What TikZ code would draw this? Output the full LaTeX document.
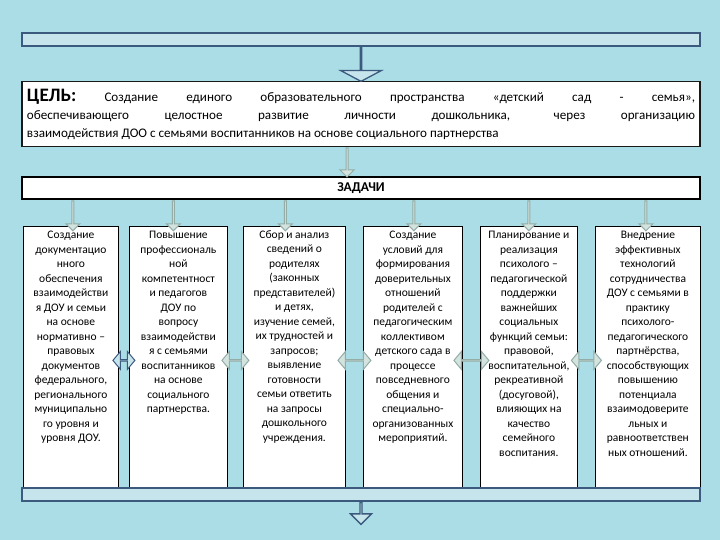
\documentclass[tikz,border=0pt]{standalone}
\usepackage{fontspec}
\setmainfont{Carlito}
\usepackage{tikz}
\usetikzlibrary{positioning,shapes.arrows,calc}
\definecolor{lagoon}{HTML}{ABDDE7}
\definecolor{icebar}{HTML}{C6E4EC}
\definecolor{slate}{HTML}{3C5A7D}
\definecolor{sage}{HTML}{93ADA6}
\definecolor{mist}{HTML}{D3E3DF}
\tikzset{
  bandbar/.style={rectangle, draw=slate, fill=icebar, line width=1.4pt,
    minimum width=678pt, minimum height=13pt, inner sep=0pt},
  goalbox/.style={rectangle, draw=black!90, fill=white, line width=1.8pt,
    minimum width=678pt, minimum height=65pt, text width=668pt,
    inner sep=4pt, align=justify, font=\fontsize{13.1}{18}\selectfont},
  taskbar/.style={rectangle, draw=black, fill=white, line width=1.8pt,
    minimum width=678pt, minimum height=22pt, inner sep=0pt,
    font=\fontsize{13.5}{15}\selectfont\bfseries},
  colbox/.style={rectangle, draw=black, fill=white, line width=0.8pt,
    minimum height=262pt, anchor=north west, inner sep=0pt},
  coltext/.style={align=center, inner sep=0pt,
    font=\fontsize{11.5}{14.5}\selectfont},
  blockdown/.style={single arrow, shape border rotate=270, anchor=tail,
    draw=slate, fill=icebar, line width=1.3pt, inner sep=0pt,
    minimum width=41pt, single arrow head extend=15.5pt,
    single arrow tip angle=124},
  taskarrow/.style={single arrow, shape border rotate=270, anchor=tail,
    draw=sage, fill=mist, line width=1pt, inner sep=0pt,
    minimum width=14pt, single arrow head extend=3pt,
    single arrow tip angle=90, minimum height=30pt},
  dblarrow/.style={double arrow, draw=#1, fill=mist, line width=1pt,
    inner sep=0pt, minimum width=18pt, double arrow head extend=5pt,
    double arrow tip angle=100},
  dblarrow/.default=sage,
}
\begin{document}
\begin{tikzpicture}[x=1pt, y=-1pt, node distance=29pt]
\fill[lagoon] (0,0) rectangle (720,540);
\node[bandbar] (topbar) at (361,39.5) {};
\node[goalbox, below=34pt of topbar] (goal) {{\fontsize{19}{18}\selectfont\bfseries ЦЕЛЬ:} Создание единого образовательного пространства «детский сад - семья»,\linebreak
обеспечивающего целостное развитие личности дошкольника, через организацию\linebreak
взаимодействия ДОО с семьями воспитанников на основе социального партнерства};
\node[blockdown, minimum height=34pt] (goalarrow) at (topbar.south) {};
\node[taskbar, below=of goal] (tasks) {ЗАДАЧИ};
\node[taskarrow, minimum height=29pt] (taskin) at ([xshift=-14pt]goal.south) {};

\node[colbox, minimum width=95pt] (c1) at (23,226) {};
\node[colbox, minimum width=98pt] (c2) at (129,226) {};
\node[colbox, minimum width=102pt] (c3) at (243,226) {};
\node[colbox, minimum width=99pt] (c4) at (363,226) {};
\node[colbox, minimum width=97pt] (c5) at (480,226) {};
\node[colbox, minimum width=105pt] (c6) at (595,226) {};

\node[coltext, below=5pt of c1.north] (t1) {Создание\\документацио\\нного\\обеспечения\\взаимодействи\\я ДОУ и семьи\\на основе\\нормативно –\\правовых\\документов\\федерального,\\регионального\\муниципально\\го уровня и\\уровня ДОУ.};
\node[coltext, below=5pt of c2.north] (t2) {Повышение\\профессиональ\\ной\\компетентност\\и педагогов\\ДОУ по\\вопросу\\взаимодействи\\я с семьями\\воспитанников\\на основе\\социального\\партнерства.};
\node[coltext, below=4pt of c3.north] (t3) {Сбор и анализ\\сведений о\\родителях\\(законных\\представителей)\\и детях,\\изучение семей,\\их трудностей и\\запросов;\\выявление\\готовности\\семьи ответить\\на запросы\\дошкольного\\учреждения.};
\node[coltext, below=5pt of c4.north] (t4) {Создание\\условий для\\формирования\\доверительных\\отношений\\родителей с\\педагогическим\\коллективом\\детского сада в\\процессе\\повседневного\\общения и\\специально-\\организованных\\мероприятий.};
\node[coltext, below=5pt of c5.north] (t5) {Планирование и\\реализация\\психолого –\\педагогической\\поддержки\\важнейших\\социальных\\функций семьи:\\правовой,\\воспитательной,\\рекреативной\\(досуговой),\\влияющих на\\качество\\семейного\\воспитания.};
\node[coltext, below=5pt of c6.north] (t6) {Внедрение\\эффективных\\технологий\\сотрудничества\\ДОУ с семьями в\\практику\\психолого-\\педагогического\\партнёрства,\\способствующих\\повышению\\потенциала\\взаимодоверите\\льных и\\равноответствен\\ных отношений.};

\foreach \c/\dx in {c1/2, c2/-5, c3/-9, c4/1, c5/0, c6/-2}
  \node[taskarrow] at ([xshift=\dx pt]\c.north |- tasks.south) {};

\node[dblarrow=slate, fill=icebar, minimum height=22pt] (d12) at ($(c1.east)!0.5!(c2.west)+(0,3)$) {};
\foreach \a/\b/\len in {c2/c3/27, c3/c4/33, c4/c5/35, c5/c6/30}
  \node[dblarrow, minimum height=\len pt] at ($(\a.east)!0.5!(\b.west)+(0,3)$) {};

\node[bandbar] (botbar) at (361,494.5) {};
\node[blockdown, minimum width=21pt, single arrow head extend=6.5pt,
  single arrow tip angle=90, minimum height=22pt] (outarrow) at (botbar.south) {};
\end{tikzpicture}
\end{document}
